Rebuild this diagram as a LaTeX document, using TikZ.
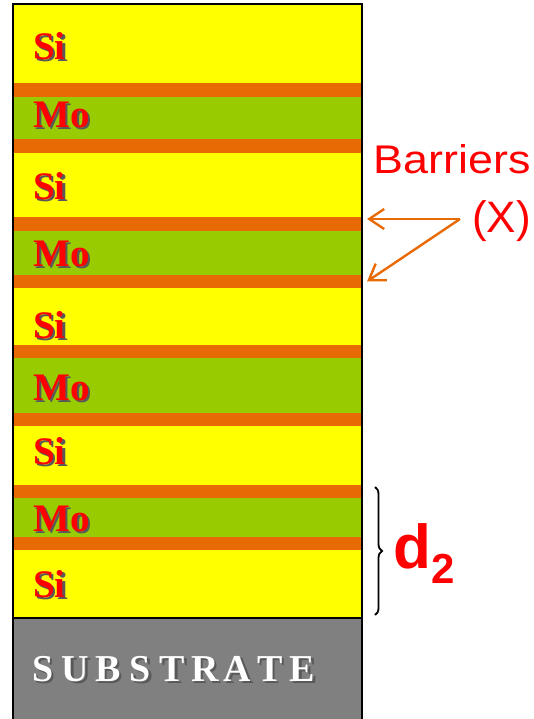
\documentclass[tikz,border=0pt]{standalone}
\usepackage{fontspec}
\setmainfont{Liberation Serif}
\newfontfamily\arialFont{Liberation Sans}
\usetikzlibrary{arrows.meta,decorations.pathreplacing}
\tikzstyle{stack} = [x = 1pt, y = -1pt]
\definecolor{siColor}{RGB}{255,255,0}
\definecolor{moColor}{RGB}{153,204,0}
\definecolor{barrierColor}{RGB}{232,106,4}
\definecolor{substrateColor}{RGB}{128,128,128}
\definecolor{labelRed}{RGB}{255,0,0}
\tikzstyle{siStyle} = [fill=siColor]
\tikzstyle{moStyle} = [fill=moColor]
\tikzstyle{barrierStyle} = [fill=barrierColor]
\tikzstyle{substrateStyle} = [fill=substrateColor]
\tikzstyle{stackBorder} = [color=black, line width=1.5pt]
\tikzstyle{labelText} = [anchor=west, inner sep=0, text=labelRed, font=\fontsize{39}{39}\selectfont\bfseries]
\tikzstyle{subText} = [inner sep=0, text=white, font=\fontsize{38}{38}\selectfont\bfseries]
\tikzstyle{noteText} = [inner sep=0, text=labelRed, font=\fontsize{40}{40}\selectfont\arialFont]
\tikzstyle{noteArrow} = [color=barrierColor, line width=2.4pt, -{Straight Barb[length=15pt, width=20pt]}]
\tikzstyle{braceStyle} = [decorate, decoration={brace, amplitude=7pt}, line width=1.8pt]
\newcommand{\xl}{13}
\newcommand{\xr}{362}
\newcommand{\shadowed}[1]{\makebox[0pt][l]{\hspace{2.5pt}\raisebox{-2.5pt}{\textcolor{black!65}{#1}}}#1}
\newcommand{\layer}[4]{\fill [#4] (\xl, #2) rectangle (\xr, #3); \coordinate (#1) at (\xr, {(#2 + #3) / 2});}
\newcommand{\matLabel}[3]{\node [labelText] (#1) at (33, #2) {\shadowed{#3}};}

\begin{document}
\begin{tikzpicture}[stack]
  \useasboundingbox (0,0) rectangle (533,719);
  % layers, top to bottom
  \layer{si1}{4}{83}{siStyle}
  \layer{b1}{83}{97}{barrierStyle}
  \layer{mo1}{97}{139}{moStyle}
  \layer{b2}{139}{153}{barrierStyle}
  \layer{si2}{153}{217}{siStyle}
  \layer{b3}{217}{231}{barrierStyle}
  \layer{mo2}{231}{275}{moStyle}
  \layer{b4}{275}{288}{barrierStyle}
  \layer{si3}{288}{345}{siStyle}
  \layer{b5}{345}{358}{barrierStyle}
  \layer{mo3}{358}{413}{moStyle}
  \layer{b6}{413}{426}{barrierStyle}
  \layer{si4}{426}{485}{siStyle}
  \layer{b7}{485}{498}{barrierStyle}
  \layer{mo4}{498}{537}{moStyle}
  \layer{b8}{537}{550}{barrierStyle}
  \layer{si5}{550}{618}{siStyle}
  \layer{sub}{618}{719}{substrateStyle}
  \draw [stackBorder] (\xl, 719) -- (\xl, 4) -- (\xr, 4) -- (\xr, 719);
  \draw [stackBorder] (\xl, 618) -- (\xr, 618);

  \matLabel{siLabelA}{47}{Si}
  \matLabel{moLabelA}{116}{Mo}
  \matLabel{siLabelB}{187}{Si}
  \matLabel{moLabelB}{255}{Mo}
  \matLabel{siLabelC}{326}{Si}
  \matLabel{moLabelC}{389}{Mo}
  \matLabel{siLabelD}{452}{Si}
  \matLabel{moLabelD}{520}{Mo}
  \matLabel{siLabelE}{585}{Si}

  \foreach \letter [count=\i] in {S,U,B,S,T,R,A,T,E} {
    \node [subText] (subLetter\i) at ({43 + 32.4 * (\i - 1)}, 670) {\shadowed{\letter}};
  }

  % barrier note
  \node [noteText, anchor=base east, xscale=1.12] (barriers) at (531, 174) {Barriers};
  \node [noteText, anchor=base east, font=\fontsize{44}{44}\selectfont\arialFont] (xLabel) at (531, 233) {(X)};
  \coordinate (fork) at (460, 219);
  \draw [noteArrow] (fork) -- ([shift={(5,-5)}]b3);
  \draw [noteArrow] (fork) -- ([xshift=5pt]b4);

  % period brace
  \coordinate (braceTop) at (375, 487);
  \coordinate (braceBottom) at (375, 615);
  \draw [braceStyle] (braceTop) -- (braceBottom);
  \node [inner sep=0, anchor=base west, text=labelRed, font=\fontsize{62}{62}\selectfont\bfseries\arialFont] (period) at (393, 568) {d\raisebox{-15pt}{\fontsize{42}{42}\selectfont 2}};
\end{tikzpicture}
\end{document}
